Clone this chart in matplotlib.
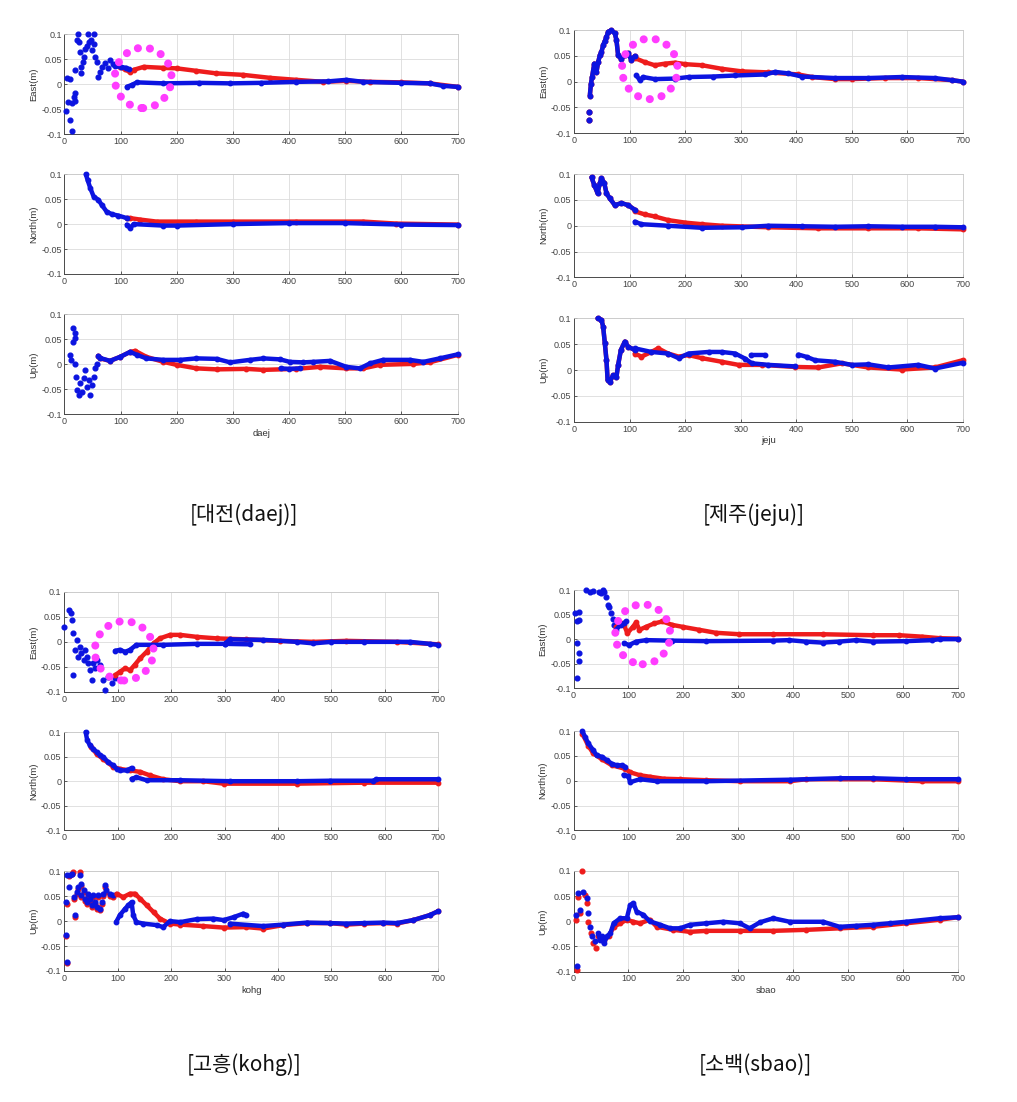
"""Four GNSS stations, East/North/Up convergence, red vs blue solution."""

import matplotlib
matplotlib.use("Agg")
import matplotlib.pyplot as plt
from matplotlib.patches import Ellipse

plt.rcParams['font.family'] = ['Liberation Sans', 'DejaVu Sans']

RED = '#ee1c1c'
BLUE = '#0c14e0'
MAGENTA = '#ff3cff'

# ---------------- daej ----------------
daej_e_blue_pts = [(3, -.053), (5, .012), (9, .011), (6, -.036), (10, -.071), (13, -.093), (13, -.038),
                   (17, -.025), (18, -.018), (19, -.033), (18, .029), (22, .089), (24, .1), (26, .084),
                   (28, .065), (30, .035), (30, .023), (33, .045), (35, .055), (37, .07), (40, .077),
                   (41, .1), (44, .085), (47, .089), (49, .069), (52, .1), (53, .08), (55, .055),
                   (58, .045), (60, .015), (63, .025), (66, .035), (72, .042), (78, .032), (81, .049),
                   (87, .04)]
daej_e_red = [(98, .035), (108, .03), (117, .024), (123, .029), (141, .035), (176, .033), (200, .032),
              (235, .027), (270, .022), (318, .019), (366, .013), (413, .009), (461, .005), (502, .007),
              (544, .005), (600, .004), (650, .002), (700, -.005)]
daej_e_blue_hi = [(90, .036), (100, .035), (110, .033), (115, .03)]
daej_e_blue = [(111, -.005), (120, -.001), (129, .004), (176, .002), (240, .003), (295, .002), (350, .003),
               (413, .005), (470, .006), (502, .009), (532, .005), (600, .003), (650, .002), (674, -.003),
               (700, -.005)]

daej_n_red = [(111, .012), (117, .012), (135, .009), (164, .005), (235, .005), (300, .005), (413, .005),
              (532, .005), (591, .001), (700, -.001)]
daej_n_blue_head = [(38, .1), (41, .089), (46, .072), (52, .055), (60, .049), (66, .039), (75, .025),
                    (84, .02), (96, .017), (111, .012)]
daej_n_blue = [(111, -.001), (117, -.008), (123, 0), (176, -.003), (200, -.003), (300, 0), (400, .002),
               (500, .002), (600, -.001), (700, -.002)]

daej_u_blue_pts = [(10, .019), (11, .009), (15, .072), (18, .062), (19, .052), (16, .045), (19, 0),
                   (21, -.025), (23, -.051), (25, -.061), (28, -.038), (31, -.055), (34, -.028),
                   (37, -.011), (40, -.045), (43, -.031), (46, -.061), (49, -.041), (52, -.025),
                   (55, -.008), (58, 0)]
daej_u_red = [(60, .017), (63, .012), (81, .007), (99, .015), (117, .025), (126, .027), (146, .015),
              (176, .005), (200, -.001), (235, -.008), (271, -.01), (324, -.009), (354, -.011),
              (413, -.009), (455, -.005), (502, -.008), (532, -.008), (561, -.001), (621, .001),
              (650, .004), (700, .019)]
daej_u_blue = [(60, .017), (63, .013), (81, .007), (99, .015), (117, .025), (129, .019), (146, .012),
               (176, .009), (206, .009), (235, .012), (271, .011), (295, .004), (330, .009), (354, .012),
               (384, .01), (401, .005), (425, .004), (443, .005), (473, .007), (502, -.005), (526, -.008),
               (544, .002), (567, .009), (615, .009), (639, .005), (668, .012), (700, .02)]
daej_u_blue_b = [(385, -.008), (400, -.009), (420, -.008)]

# ---------------- jeju ----------------
jeju_e_pts = [(27, -.059), (27, -.075)]
jeju_e_head = [(28, -.027), (30, -.004), (32, .009), (36, .035), (40, .019), (43, .038), (46, .051),
               (49, .058), (52, .071), (55, .079), (58, .087), (61, .097), (67, .1), (73, .094),
               (76, .081), (79, .051), (84, .045), (91, .051), (97, .055), (103, .042), (109, .05)]
jeju_e_red = [(109, .046), (127, .038), (145, .032), (163, .035), (182, .037), (200, .034), (230, .032),
              (266, .025), (302, .02), (350, .018), (404, .014), (428, .009), (470, .005), (500, .005),
              (560, .007), (620, .007), (680, .003), (700, 0)]
jeju_e_blue = [(112, .012), (118, .003), (124, .009), (145, .005), (182, .006), (206, .009), (250, .01),
               (290, .012), (344, .014), (362, .019), (386, .016), (410, .01), (470, .007), (530, .007),
               (590, .009), (650, .007), (680, .003), (700, 0)]

jeju_n_head = [(31, .094), (36, .079), (42, .063), (46, .083), (49, .092), (54, .083), (58, .063),
               (64, .053), (73, .04), (85, .044), (97, .04), (109, .031)]
jeju_n_red = [(109, .028), (127, .022), (145, .018), (169, .011), (200, .006), (230, .003), (266, 0),
              (350, -.003), (440, -.005), (530, -.005), (620, -.005), (700, -.007)]
jeju_n_blue = [(109, .008), (121, .003), (169, 0), (230, -.004), (302, -.003), (350, 0), (410, -.001),
               (470, -.002), (530, -.001), (590, -.002), (650, -.002), (700, -.003)]

jeju_u_head = [(42, .1), (49, .097), (52, .084), (55, .052), (58, .019), (60, -.019), (64, -.023),
               (70, -.01), (76, -.013), (79, .01), (84, .039), (91, .055), (97, .045), (109, .039)]
jeju_u_red = [(109, .032), (121, .026), (139, .035), (151, .042), (169, .032), (188, .026), (206, .029),
              (230, .023), (266, .016), (296, .01), (338, .01), (398, .006), (440, .005), (482, .013),
              (530, .005), (590, .001), (650, .005), (700, .019)]
jeju_u_blue = [(109, .042), (139, .035), (169, .032), (188, .023), (206, .032), (242, .035), (266, .035),
               (290, .032), (308, .022), (320, .013), (350, .01), (398, .007)]
jeju_u_blue_b = [(404, .03), (420, .025), (434, .019), (470, .016), (500, .01), (530, .011), (566, .005),
                 (620, .01), (650, .003), (700, .014)]
jeju_u_blue_c = [(318, .03), (344, .03)]

# ---------------- kohg ----------------
kohg_e_blue_pts = [(0, .029), (9, .064), (12, .057), (14, .044), (16, .017), (17, -.067), (20, -.016),
                   (23, .004), (26, -.03), (29, -.01), (32, -.023), (36, -.036), (39, -.016), (42, -.03),
                   (45, -.043), (48, -.057), (51, -.077), (54, -.043), (57, -.053), (61, -.036),
                   (67, -.046), (73, -.077), (76, -.097), (82, -.07), (89, -.083), (95, -.073)]
kohg_e_red = [(95, -.067), (104, -.06), (114, -.053), (123, -.057), (132, -.046), (142, -.033),
              (154, -.02), (167, -.003), (179, .007), (198, .014), (217, .014), (248, .01), (285, .007),
              (310, .006), (341, .005), (404, .002), (466, 0), (528, .002), (622, 0), (700, -.005)]
kohg_e_blue = [(95, -.018), (104, -.016), (114, -.02), (123, -.016), (135, -.006), (185, -.006),
               (248, -.004), (300, -.004), (310, .005), (372, .004), (435, 0), (466, -.003), (500, 0),
               (560, 0), (647, 0), (684, -.004), (700, -.006)]
kohg_e_blue_b = [(300, -.004), (348, -.005)]

kohg_n_red = [(50, .07), (61, .055), (73, .045), (92, .029), (104, .025), (123, .022), (142, .019),
              (160, .012), (185, .004), (217, 0), (260, 0), (298, -.005), (435, -.005), (560, -.003),
              (700, -.003)]
kohg_n_blue_head = [(40, .1), (43, .083), (48, .073), (54, .066), (61, .059), (67, .053), (73, .049),
                    (82, .039), (92, .032), (98, .025), (104, .022), (117, .022), (126, .027)]
kohg_n_blue = [(126, .005), (135, .008), (154, .002), (217, .002), (310, 0), (435, 0), (497, .001),
               (578, .001), (584, .004), (700, .004)]

kohg_u_red_pts = [(3, -.03), (6, -.085), (6, .035), (9, .09), (14, .095), (17, .099), (19, .045),
                  (20, .008), (23, .055), (26, .065), (29, .098), (31, .07), (32, .048), (36, .058),
                  (39, .04), (42, .035), (45, .05), (48, .04), (51, .028), (54, .048), (57, .035),
                  (61, .025), (64, .048), (67, .022), (70, .035), (73, .05), (76, .068), (79, .058),
                  (86, .05), (92, .048)]
kohg_u_blue_pts = [(3, -.027), (3, .038), (6, -.082), (6, .092), (9, .069), (11, .092), (14, .095),
                   (19, .049), (20, .012), (23, .059), (26, .069), (29, .092), (31, .075), (32, .052),
                   (36, .062), (39, .045), (42, .038), (45, .055), (48, .045), (51, .032), (54, .052),
                   (57, .038), (61, .028), (64, .052), (67, .025), (70, .038), (73, .055), (76, .072),
                   (79, .062), (86, .055), (92, .052)]
kohg_u_red = [(98, .055), (110, .048), (123, .055), (132, .055), (142, .045), (154, .032), (167, .018),
              (179, .005), (198, -.005), (217, -.007), (260, -.01), (298, -.013), (341, -.012),
              (372, -.015), (410, -.008), (454, -.004), (497, -.004), (528, -.007), (560, -.005),
              (597, -.004), (622, -.005), (653, .002), (684, .012), (700, .02)]
kohg_u_blue = [(97, -.002), (104, .012), (114, .025), (120, .032), (126, .038), (129, .012), (135, -.002),
               (148, -.005), (173, -.008), (185, -.012), (198, 0), (217, -.002), (248, .004), (279, .005),
               (298, .002), (317, .008), (335, .015), (341, .012)]
kohg_u_blue_b = [(310, -.005), (372, -.01), (410, -.007), (454, -.003), (497, -.004), (528, -.005),
                 (560, -.004), (597, -.003), (622, -.004), (653, .002), (684, .012), (700, .02)]

# ---------------- sbao ----------------
sbao_e_blue_pts = [(3, .053), (6, .036), (7, -.008), (9, .039), (10, .056), (9, -.029), (9, -.044),
                   (7, -.08), (22, .1), (30, .095), (35, .099), (47, .095), (50, .093), (53, .1),
                   (56, .095), (59, .086), (62, .069), (65, .066), (68, .053), (71, .042), (74, .029)]
sbao_e_red = [(77, .025), (86, .032), (92, .029), (98, .012), (108, .025), (114, .034), (120, .019),
              (132, .025), (147, .032), (162, .036), (180, .029), (199, .025), (229, .019), (259, .013),
              (302, .01), (363, .01), (454, .01), (545, .008), (594, .008), (636, .005), (667, .002),
              (700, .001)]
sbao_e_blue_hi = [(77, .019), (86, .029), (92, .032), (95, .036)]
sbao_e_blue = [(92, -.008), (101, -.012), (114, -.005), (132, -.002), (180, -.003), (241, -.004),
               (363, -.003), (393, -.002), (423, -.005), (454, -.007), (484, -.005), (515, -.002),
               (545, -.005), (606, -.004), (654, -.002), (667, 0), (700, 0)]

sbao_n_red = [(16, .095), (27, .07), (36, .055), (52, .043), (70, .031), (94, .024), (103, .017),
              (121, .011), (139, .008), (164, .004), (194, .003), (242, .001), (303, -.001), (394, -.001),
              (424, .003), (545, .003), (636, -.001), (700, -.001)]
sbao_n_blue_head = [(16, .1), (21, .088), (27, .075), (36, .061), (42, .051), (52, .048), (61, .041),
                    (70, .034), (79, .031), (88, .031), (94, .028)]
sbao_n_blue = [(91, .012), (100, .009), (103, -.003), (121, .003), (152, -.001), (242, -.001),
               (394, .002), (485, .005), (545, .005), (606, .003), (700, .003)]

sbao_u_red_pts = [(5, .003), (8, .049), (6, -.097), (11, .016), (16, .099), (21, .052), (24, .036),
                  (27, -.001), (32, -.024), (36, -.044), (41, -.054)]
sbao_u_blue_pts = [(5, .013), (8, .056), (6, -.089), (11, .023), (18, .059), (24, .046), (27, .016),
                   (30, -.011), (33, -.03), (39, -.04)]
sbao_u_red = [(45, -.03), (55, -.037), (64, -.03), (73, -.011), (85, -.004), (97, .003), (109, -.001),
              (121, -.004), (139, .003), (152, -.011), (182, -.017), (212, -.021), (242, -.019),
              (303, -.019), (364, -.019), (424, -.017), (485, -.014), (545, -.011), (606, -.004),
              (667, .003), (700, .008)]
sbao_u_blue = [(45, -.024), (48, -.037), (52, -.03), (55, -.044), (61, -.03), (67, -.024), (73, -.004),
               (85, .006), (97, .006), (103, .032), (109, .036), (115, .019), (127, .013), (139, 0),
               (158, -.007), (176, -.014), (194, -.014), (212, -.007), (242, -.004), (273, -.001),
               (303, -.004), (321, -.014), (340, -.002), (364, .006), (394, -.001), (455, -.001),
               (485, -.011), (515, -.009), (545, -.007), (576, -.004), (606, -.001), (667, .006),
               (700, .008)]

stations = ['daej', 'jeju', 'kohg', 'sbao']
captions = ['[대전(daej)]', '[제주(jeju)]', '[고흥(kohg)]', '[소백(sbao)]']
comp_labels = ['East(m)', 'North(m)', 'Up(m)']
# dashed highlight circle on the East panel: centre x, centre y, width, height
circles = [(140, .013, 101, .121), (136, .025, 100, .118), (112, -.018, 110, .119), (126, .010, 100, .122)]


def track(ax, pts, color):
    x, y = zip(*pts)
    ax.plot(x, y, color=color, lw=3.2, marker='o', ms=3.2, mec=color, clip_on=False,
            solid_capstyle='round', solid_joinstyle='round', zorder=3)


def dots(ax, pts, color):
    x, y = zip(*pts)
    ax.plot(x, y, 'o', color=color, ms=3.4, mec=color, clip_on=False, zorder=3)


def style(ax, ylabel, xlabel=None):
    ax.set_xlim(0, 700)
    ax.set_ylim(-0.1, 0.1)
    ax.set_xticks(range(0, 701, 100))
    ax.set_yticks([-0.1, -0.05, 0, 0.05, 0.1])
    ax.set_yticklabels(['-0.1', '-0.05', '0', '0.05', '0.1'])
    ax.grid(True, color='#dcdcdc', lw=0.6)
    ax.set_axisbelow(True)
    ax.tick_params(direction='in', length=2, width=0.6, labelsize=6.5, colors='#444444', pad=2)
    for s in ['left', 'bottom']:
        ax.spines[s].set_color('#4a4a4a')
        ax.spines[s].set_linewidth(0.7)
    for s in ['top', 'right']:
        ax.spines[s].set_color('#c8c8c8')
        ax.spines[s].set_linewidth(0.6)
    ax.set_ylabel(ylabel, fontsize=6.8, color='#333333', labelpad=2)
    if xlabel:
        ax.set_xlabel(xlabel, fontsize=6.8, color='#333333', labelpad=2)


fig = plt.figure(figsize=(10.17, 11.02), dpi=100)

# axes rectangles [left, bottom, width, height] for East, North, Up per station
rects = {
    'daej': [[0.0634, 0.8781, 0.3866, 0.0907], [0.0634, 0.7514, 0.3866, 0.0905], [0.0634, 0.6240, 0.3866, 0.0907]],
    'jeju': [[0.5647, 0.8793, 0.3819, 0.0932], [0.5647, 0.7484, 0.3819, 0.0935], [0.5647, 0.6173, 0.3819, 0.0938]],
    'kohg': [[0.0632, 0.3723, 0.3678, 0.0905], [0.0632, 0.2465, 0.3678, 0.0892], [0.0632, 0.1189, 0.3678, 0.0905]],
    'sbao': [[0.5640, 0.3754, 0.3776, 0.0892], [0.5640, 0.2465, 0.3776, 0.0901], [0.5640, 0.1183, 0.3776, 0.0914]],
}

axes = {}
for st in stations:
    axes[st] = [fig.add_axes(r) for r in rects[st]]
    for i, ax in enumerate(axes[st]):
        style(ax, comp_labels[i], st if i == 2 else None)

# daej
e, n, u = axes['daej']
dots(e, daej_e_blue_pts, BLUE)
track(e, daej_e_red, RED)
track(e, daej_e_blue_hi, BLUE)
track(e, daej_e_blue, BLUE)
track(n, daej_n_red, RED)
track(n, daej_n_blue_head, BLUE)
track(n, daej_n_blue, BLUE)
dots(u, daej_u_blue_pts, BLUE)
track(u, daej_u_red, RED)
track(u, daej_u_blue, BLUE)
track(u, daej_u_blue_b, BLUE)

# jeju
e, n, u = axes['jeju']
dots(e, jeju_e_pts, RED)
dots(e, jeju_e_pts, BLUE)
track(e, jeju_e_head, RED)
track(e, jeju_e_red, RED)
track(e, jeju_e_head, BLUE)
track(e, jeju_e_blue, BLUE)
track(n, jeju_n_head, RED)
track(n, jeju_n_red, RED)
track(n, jeju_n_head, BLUE)
track(n, jeju_n_blue, BLUE)
track(u, jeju_u_head, RED)
track(u, jeju_u_red, RED)
track(u, jeju_u_head, BLUE)
track(u, jeju_u_blue, BLUE)
track(u, jeju_u_blue_b, BLUE)
track(u, jeju_u_blue_c, BLUE)

# kohg
e, n, u = axes['kohg']
dots(e, kohg_e_blue_pts, BLUE)
track(e, kohg_e_red, RED)
track(e, kohg_e_blue, BLUE)
track(e, kohg_e_blue_b, BLUE)
track(n, kohg_n_red, RED)
track(n, kohg_n_blue_head, BLUE)
track(n, kohg_n_blue, BLUE)
dots(u, kohg_u_red_pts, RED)
dots(u, kohg_u_blue_pts, BLUE)
track(u, kohg_u_red, RED)
track(u, kohg_u_blue, BLUE)
track(u, kohg_u_blue_b, BLUE)

# sbao
e, n, u = axes['sbao']
dots(e, sbao_e_blue_pts, BLUE)
track(e, sbao_e_red, RED)
track(e, sbao_e_blue_hi, BLUE)
track(e, sbao_e_blue, BLUE)
track(n, sbao_n_red, RED)
track(n, sbao_n_blue_head, BLUE)
track(n, sbao_n_blue, BLUE)
dots(u, sbao_u_red_pts, RED)
dots(u, sbao_u_blue_pts, BLUE)
track(u, sbao_u_red, RED)
track(u, sbao_u_blue, BLUE)

# magenta dotted circles on the East panels
for st, (cx, cy, w, h) in zip(stations, circles):
    ell = Ellipse((cx, cy), w, h, fill=False, edgecolor=MAGENTA, lw=5.8,
                  linestyle=(0, (0.01, 1.5)), zorder=5)
    ell.set_capstyle('round')
    axes[st][0].add_patch(ell)

# captions
cap_pos = [(0.240, 0.5327), (0.7414, 0.5327), (0.240, 0.0336), (0.7424, 0.0336)]
for (x, y), txt in zip(cap_pos, captions):
    fig.text(x, y, txt, ha='center', va='center', fontsize=15,
             family=['Noto Sans CJK KR', 'DejaVu Sans'], color='#111111')

fig.savefig('out.png', dpi=100)
